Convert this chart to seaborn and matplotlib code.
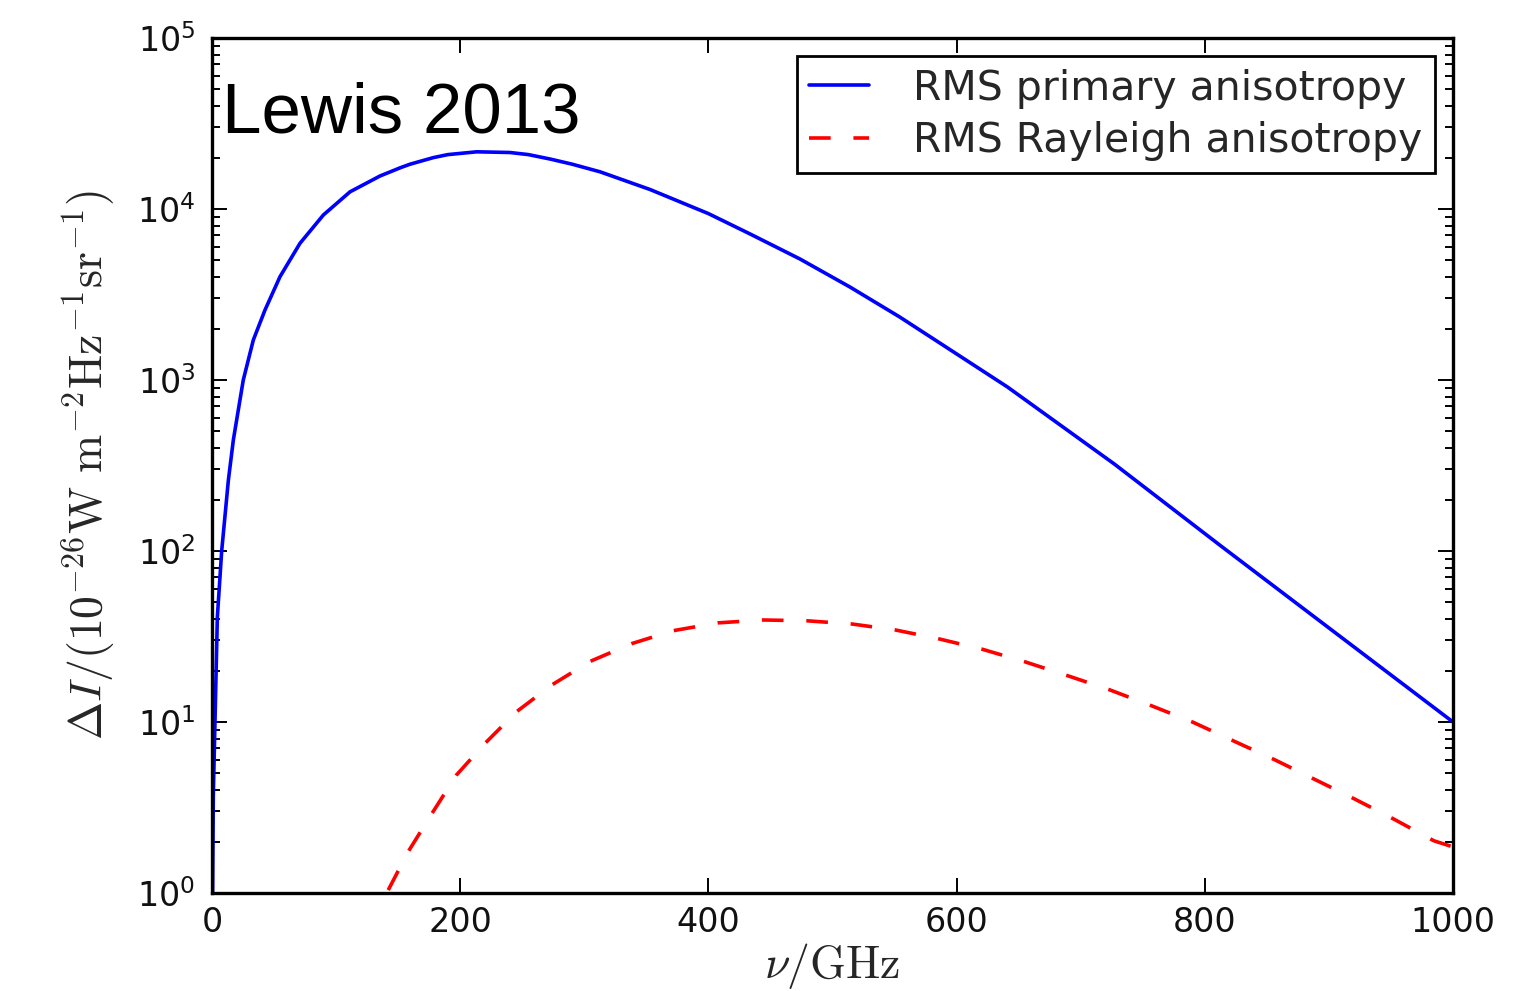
import numpy as np
import pandas as pd
import matplotlib
matplotlib.use("Agg")
import matplotlib.pyplot as plt
import seaborn as sns

# ---- data ----
nu_primary = [0.5, 1.05, 2.4, 4.3, 7.8, 13.2, 17.2, 25.2, 33.3, 42.7, 54.8, 70.9, 89.7, 111.2,
              135.4, 151.5, 159.5, 178.3, 190, 213.3, 240, 255, 272.4, 290, 312.7, 353, 400,
              433.5, 473.8, 514, 554, 595, 641, 727, 813, 900, 1000]
rms_primary = [1.0, 3.7, 10, 41, 100, 260, 446, 1000, 1714, 2566, 4020, 6300, 9220, 12600,
               15600, 17400, 18270, 19970, 20800, 21600, 21400, 20800, 19600, 18300, 16500,
               13000, 9400, 7150, 5100, 3500, 2340, 1500, 910, 323, 107, 35.5, 10]

nu_rayleigh = [142, 158, 177, 197, 220, 245.5, 274, 304.6, 338, 371.6, 407.8, 444, 479, 516,
               551, 586, 621, 655, 690, 723.6, 757.6, 790.6, 823, 856, 888, 920.6, 952.5,
               984.6, 1000]
rms_rayleigh = [1.04, 1.74, 2.9, 4.9, 7.5, 11.5, 16.5, 22.6, 28.7, 34.2, 38, 39.5, 39.1, 37.4,
                34.5, 30.6, 26.6, 22.5, 18.6, 15.4, 12.4, 9.96, 7.76, 6.03, 4.64, 3.55, 2.7,
                2.02, 1.86]

labels = ["RMS primary anisotropy", "RMS Rayleigh anisotropy"]
x_ticks = [0, 200, 400, 600, 800, 1000]

df_p = pd.DataFrame({"nu": nu_primary, "dI": rms_primary})
df_r = pd.DataFrame({"nu": nu_rayleigh, "dI": rms_rayleigh})

sns.set_style("white")
plt.rcParams["font.family"] = ["DejaVu Sans"]
plt.rcParams["mathtext.fontset"] = "cm"

fig = plt.figure(figsize=(15.36, 9.91), dpi=100)
ax = fig.add_axes([212/1536, 1-893/991, (1453-212)/1536, (893-38)/991])

sns.lineplot(data=df_p, x="nu", y="dI", ax=ax, color="#0000ff", lw=2.6,
             label=labels[0], estimator=None, sort=False)
sns.lineplot(data=df_r, x="nu", y="dI", ax=ax, color="#ff0000", lw=2.6,
             label=labels[1], estimator=None, sort=False)
ax.lines[1].set_dashes((6, 6.3))

ax.set_yscale("log")
ax.set_xlim(0, 1000)
ax.set_ylim(1, 1e5)
ax.set_xticks(x_ticks)
ax.set_xticklabels([str(t) for t in x_ticks])

for sp in ax.spines.values():
    sp.set_linewidth(2.4)
    sp.set_color("black")

ax.tick_params(which="both", direction="in", top=True, right=True, left=True, bottom=True,
               colors="black", labelcolor="#111111")
ax.tick_params(which="major", length=11, width=1.4, labelsize=24)
ax.tick_params(which="minor", length=6, width=1.4)
ax.tick_params(axis="x", which="major", pad=9)
ax.tick_params(axis="y", which="major", pad=12)

ax.set_xlabel(r"$\nu/\mathrm{GHz}$", fontsize=33, labelpad=2)
ax.set_ylabel(r"$\Delta I/(10^{-26}\mathrm{W\ m^{-2}Hz^{-1}sr^{-1}})$", fontsize=33, labelpad=14)

leg = ax.legend(loc="upper right", fontsize=29.5, frameon=True, fancybox=False, shadow=False,
                framealpha=1, edgecolor="black", handlelength=1.46, handletextpad=1.07,
                borderpad=0.3, labelspacing=0.3, borderaxespad=0.45)
leg.get_frame().set_linewidth(2.0)

ax.text(0.008, 0.889, "Lewis 2013", transform=ax.transAxes, fontsize=51,
        family=["Liberation Sans", "DejaVu Sans"], va="baseline", ha="left", color="black")

fig.savefig("out.png", dpi=100, facecolor="white")
